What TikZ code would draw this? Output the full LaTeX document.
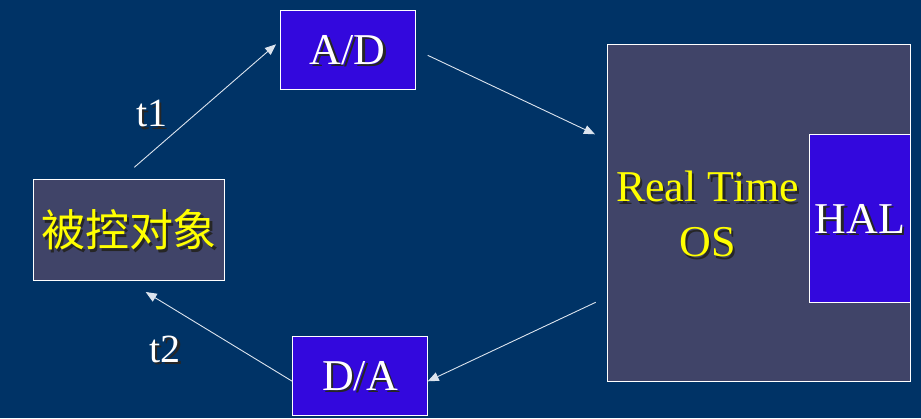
\documentclass[tikz,border=0pt]{standalone}
\usepackage{fontspec}
\setmainfont{Liberation Serif}
\newfontfamily\cjk{Noto Sans CJK SC}
\usetikzlibrary{arrows.meta}
\definecolor{bg}{RGB}{0,51,102}
\definecolor{slate}{RGB}{64,68,104}
\definecolor{vio}{RGB}{51,8,221}
\definecolor{ylw}{RGB}{255,255,0}
\definecolor{lnc}{RGB}{220,228,238}
\newcommand\shd[2]{\leavevmode\rlap{\hspace{2.5pt}\raisebox{-2.5pt}{\color{black!85}#2}}{\color{#1}#2}}
\tikzset{
  slatebox/.style={draw=white, line width=1pt, fill=slate, inner sep=0pt},
  viobox/.style={draw=white, line width=1pt, fill=vio, inner sep=0pt,
    font=\fontsize{44}{52}\selectfont, text height=29pt, text depth=0pt},
  conn/.style={draw=lnc, line width=0.9pt, -{Triangle[length=11pt,width=9pt]}, color=lnc},
  tlab/.style={anchor=base, font=\fontsize{40}{48}\selectfont, inner sep=0pt}
}
\begin{document}
\begin{tikzpicture}[x=1pt,y=-1pt]
\fill[bg] (0,0) rectangle (921,418);
\useasboundingbox (0,0) rectangle (921,418);
% boxes
\node[slatebox, minimum width=191.4pt, minimum height=101pt,
      font=\cjk\fontsize{44}{52}\selectfont, text height=36.5pt, text depth=3pt]
      (obj) at (129,229.8) {\shd{ylw}{被控对象}};
\node[viobox, minimum width=135.4pt, minimum height=79pt] (ad) at (347.7,49.8) {\shd{white}{A/D}};
\node[viobox, minimum width=135.4pt, minimum height=79pt] (da) at (360,375.8) {\shd{white}{D/A}};
\node[slatebox, minimum width=303.4pt, minimum height=337pt] (os) at (759,212.8) {};
\node[viobox, minimum width=101.4pt, minimum height=168.4pt] (hal) at (860,218.5) {\shd{white}{HAL}};
\node[align=center, inner sep=0pt, font=\fontsize{44}{55}\selectfont] (rtos) at (707.5,215.6)
      {\shd{ylw}{Real Time}\\\shd{ylw}{OS}};
% connector ends
\coordinate (p1s) at (134.3,167.3);
\coordinate (p1e) at (276,44.3);
\coordinate (p2s) at (427.7,55.3);
\coordinate (p2e) at (595,134.3);
\coordinate (p3s) at (595.7,302.3);
\coordinate (p3e) at (427.7,381.3);
\coordinate (p4s) at (292.3,381.3);
\coordinate (p4e) at (145.7,292);
\draw[conn] (p1s) -- (p1e);
\draw[conn] (p2s) -- (p2e);
\draw[conn] (p3s) -- (p3e);
\draw[conn] (p4s) -- (p4e);
% labels
\node[tlab] (t1) at (151.7,126.7) {\shd{white}{t1}};
\node[tlab] (t2) at (165,362.3) {\shd{white}{t2}};
\end{tikzpicture}
\end{document}
